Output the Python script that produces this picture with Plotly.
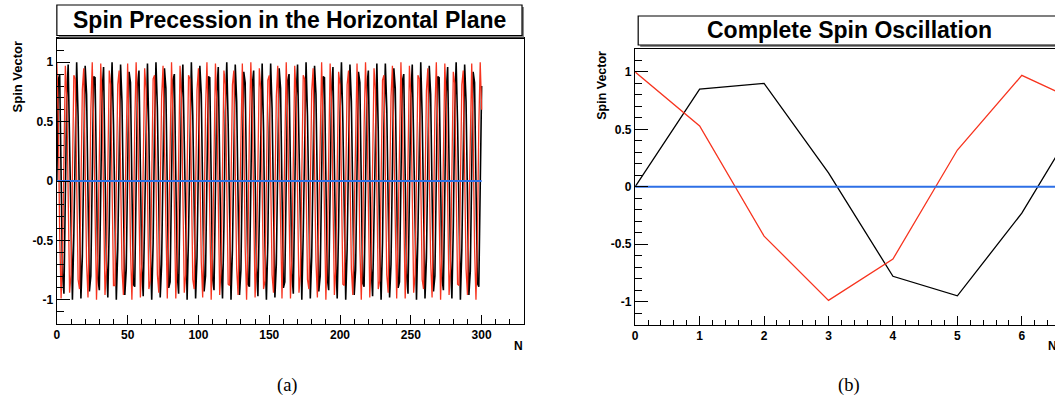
import plotly.graph_objects as go

W, H = 1055, 405

# ---------------- data ----------------
# turn number N for the long run (0 .. 300)
turns = list(range(301))

# horizontal spin components per turn (black = x, red = z), 25 turns per row
spin_x = [
    0.00, 0.85, 0.90, 0.12, -0.78, -0.95, -0.23, 0.70, 0.98, 0.34, -0.61, -1.00, -0.45, 0.52, 1.00, 0.55, -0.41, -0.99, -0.64, 0.31, 0.97, 0.73, -0.19, -0.93, -0.80,
    0.08, 0.88, 0.87, 0.04, -0.82, -0.92, -0.15, 0.75, 0.96, 0.27, -0.67, -0.98, -0.38, 0.58, 1.00, 0.48, -0.48, -1.00, -0.58, 0.38, 0.98, 0.67, -0.27, -0.96, -0.75,
    0.15, 0.92, 0.83, -0.04, -0.87, -0.89, -0.08, 0.80, 0.93, 0.19, -0.73, -0.97, -0.31, 0.64, 0.99, 0.41, -0.55, -1.00, -0.52, 0.45, 1.00, 0.61, -0.34, -0.98, -0.70,
    0.23, 0.95, 0.78, -0.12, -0.90, -0.85, 0.00, 0.85, 0.90, 0.12, -0.78, -0.95, -0.23, 0.70, 0.98, 0.34, -0.61, -1.00, -0.45, 0.52, 1.00, 0.55, -0.41, -0.99, -0.64,
    0.30, 0.97, 0.73, -0.19, -0.93, -0.80, 0.08, 0.88, 0.87, 0.04, -0.82, -0.92, -0.16, 0.75, 0.96, 0.27, -0.67, -0.99, -0.38, 0.58, 1.00, 0.48, -0.48, -1.00, -0.58,
    0.38, 0.98, 0.67, -0.27, -0.96, -0.75, 0.15, 0.92, 0.83, -0.04, -0.87, -0.89, -0.08, 0.80, 0.93, 0.19, -0.73, -0.97, -0.31, 0.64, 0.99, 0.42, -0.55, -1.00, -0.52,
    0.45, 0.99, 0.61, -0.34, -0.98, -0.70, 0.23, 0.95, 0.78, -0.11, -0.90, -0.85, 0.00, 0.84, 0.90, 0.12, -0.78, -0.95, -0.23, 0.70, 0.98, 0.34, -0.61, -1.00, -0.45,
    0.51, 1.00, 0.55, -0.41, -0.99, -0.64, 0.30, 0.97, 0.73, -0.19, -0.93, -0.80, 0.07, 0.88, 0.87, 0.04, -0.82, -0.92, -0.16, 0.75, 0.96, 0.27, -0.67, -0.99, -0.38,
    0.58, 1.00, 0.49, -0.48, -1.00, -0.58, 0.38, 0.98, 0.67, -0.27, -0.96, -0.75, 0.15, 0.92, 0.83, -0.04, -0.86, -0.89, -0.08, 0.80, 0.93, 0.20, -0.73, -0.97, -0.31,
    0.64, 0.99, 0.42, -0.55, -1.00, -0.52, 0.45, 0.99, 0.61, -0.34, -0.98, -0.70, 0.23, 0.95, 0.78, -0.11, -0.90, -0.85, 0.00, 0.84, 0.90, 0.12, -0.78, -0.95, -0.23,
    0.70, 0.98, 0.35, -0.61, -1.00, -0.45, 0.51, 1.00, 0.55, -0.41, -0.99, -0.65, 0.30, 0.97, 0.73, -0.19, -0.93, -0.80, 0.07, 0.88, 0.87, 0.04, -0.82, -0.92, -0.16,
    0.75, 0.96, 0.27, -0.67, -0.99, -0.38, 0.58, 1.00, 0.49, -0.48, -1.00, -0.58, 0.37, 0.98, 0.67, -0.26, -0.96, -0.76, 0.15, 0.92, 0.83, -0.03, -0.86, -0.89, -0.08,
    0.80,
]

spin_z = [
    1.00, 0.53, -0.43, -0.99, -0.63, 0.32, 0.97, 0.71, -0.21, -0.94, -0.79, 0.10, 0.89, 0.86, 0.02, -0.83, -0.91, -0.14, 0.77, 0.95, 0.25, -0.69, -0.98, -0.36, 0.60,
    1.00, 0.47, -0.50, -1.00, -0.57, 0.40, 0.99, 0.66, -0.29, -0.96, -0.74, 0.17, 0.93, 0.81, -0.06, -0.88, -0.88, -0.06, 0.81, 0.93, 0.17, -0.74, -0.96, -0.29, 0.66,
    0.99, 0.40, -0.56, -1.00, -0.50, 0.47, 1.00, 0.60, -0.36, -0.98, -0.69, 0.25, 0.95, 0.77, -0.13, -0.91, -0.84, 0.02, 0.86, 0.89, 0.10, -0.79, -0.94, -0.21, 0.71,
    0.97, 0.32, -0.63, -0.99, -0.43, 0.53, 1.00, 0.53, -0.43, -0.99, -0.63, 0.32, 0.97, 0.71, -0.21, -0.94, -0.79, 0.10, 0.89, 0.86, 0.02, -0.83, -0.91, -0.14, 0.77,
    0.95, 0.25, -0.68, -0.98, -0.36, 0.60, 1.00, 0.47, -0.50, -1.00, -0.57, 0.39, 0.99, 0.66, -0.29, -0.96, -0.74, 0.17, 0.93, 0.81, -0.06, -0.87, -0.88, -0.06, 0.81,
    0.93, 0.18, -0.74, -0.96, -0.29, 0.66, 0.99, 0.40, -0.56, -1.00, -0.50, 0.46, 1.00, 0.60, -0.36, -0.98, -0.69, 0.25, 0.95, 0.77, -0.13, -0.91, -0.84, 0.02, 0.85,
    0.89, 0.10, -0.79, -0.94, -0.21, 0.71, 0.97, 0.33, -0.63, -0.99, -0.43, 0.53, 1.00, 0.53, -0.43, -0.99, -0.63, 0.32, 0.97, 0.72, -0.21, -0.94, -0.79, 0.09, 0.89,
    0.86, 0.02, -0.83, -0.91, -0.14, 0.76, 0.95, 0.25, -0.68, -0.98, -0.36, 0.59, 1.00, 0.47, -0.50, -1.00, -0.57, 0.39, 0.99, 0.66, -0.28, -0.96, -0.74, 0.17, 0.92,
    0.81, -0.06, -0.87, -0.88, -0.06, 0.81, 0.93, 0.18, -0.74, -0.96, -0.29, 0.66, 0.99, 0.40, -0.56, -1.00, -0.50, 0.46, 1.00, 0.60, -0.36, -0.98, -0.69, 0.25, 0.95,
    0.77, -0.13, -0.91, -0.84, 0.02, 0.85, 0.89, 0.10, -0.79, -0.94, -0.21, 0.71, 0.97, 0.33, -0.63, -0.99, -0.43, 0.53, 1.00, 0.54, -0.43, -0.99, -0.63, 0.32, 0.97,
    0.72, -0.21, -0.94, -0.79, 0.09, 0.89, 0.86, 0.02, -0.83, -0.91, -0.14, 0.76, 0.95, 0.25, -0.68, -0.98, -0.36, 0.59, 1.00, 0.47, -0.50, -1.00, -0.57, 0.39, 0.99,
    0.66, -0.28, -0.96, -0.74, 0.17, 0.92, 0.82, -0.05, -0.87, -0.88, -0.06, 0.81, 0.93, 0.18, -0.74, -0.96, -0.29, 0.65, 0.99, 0.40, -0.56, -1.00, -0.50, 0.46, 1.00,
    0.60,
]

# vertical component stays at zero for every turn
spin_y = [
    0, 0, 0, 0, 0, 0, 0, 0, 0, 0, 0, 0, 0, 0, 0, 0, 0, 0, 0, 0, 0, 0, 0, 0, 0,
    0, 0, 0, 0, 0, 0, 0, 0, 0, 0, 0, 0, 0, 0, 0, 0, 0, 0, 0, 0, 0, 0, 0, 0, 0,
    0, 0, 0, 0, 0, 0, 0, 0, 0, 0, 0, 0, 0, 0, 0, 0, 0, 0, 0, 0, 0, 0, 0, 0, 0,
    0, 0, 0, 0, 0, 0, 0, 0, 0, 0, 0, 0, 0, 0, 0, 0, 0, 0, 0, 0, 0, 0, 0, 0, 0,
    0, 0, 0, 0, 0, 0, 0, 0, 0, 0, 0, 0, 0, 0, 0, 0, 0, 0, 0, 0, 0, 0, 0, 0, 0,
    0, 0, 0, 0, 0, 0, 0, 0, 0, 0, 0, 0, 0, 0, 0, 0, 0, 0, 0, 0, 0, 0, 0, 0, 0,
    0, 0, 0, 0, 0, 0, 0, 0, 0, 0, 0, 0, 0, 0, 0, 0, 0, 0, 0, 0, 0, 0, 0, 0, 0,
    0, 0, 0, 0, 0, 0, 0, 0, 0, 0, 0, 0, 0, 0, 0, 0, 0, 0, 0, 0, 0, 0, 0, 0, 0,
    0, 0, 0, 0, 0, 0, 0, 0, 0, 0, 0, 0, 0, 0, 0, 0, 0, 0, 0, 0, 0, 0, 0, 0, 0,
    0, 0, 0, 0, 0, 0, 0, 0, 0, 0, 0, 0, 0, 0, 0, 0, 0, 0, 0, 0, 0, 0, 0, 0, 0,
    0, 0, 0, 0, 0, 0, 0, 0, 0, 0, 0, 0, 0, 0, 0, 0, 0, 0, 0, 0, 0, 0, 0, 0, 0,
    0, 0, 0, 0, 0, 0, 0, 0, 0, 0, 0, 0, 0, 0, 0, 0, 0, 0, 0, 0, 0, 0, 0, 0, 0,
    0,
]

# one full oscillation, first turns only
osc_turns = [0, 1, 2, 3, 4, 5, 6, 7]
osc_x = [0.00, 0.85, 0.90, 0.12, -0.78, -0.95, -0.23, 0.70]
osc_z = [1.00, 0.53, -0.43, -0.99, -0.63, 0.32, 0.97, 0.71]
osc_y = [0, 0, 0, 0, 0, 0, 0, 0]

# axis ticks
spin_tick_vals = [-1, -0.5, 0, 0.5, 1]
spin_tick_text = ["-1", "-0.5", "0", "0.5", "1"]
turn_ticks_a = [0, 50, 100, 150, 200, 250, 300]
turn_ticks_b = [0, 1, 2, 3, 4, 5, 6]

titles = ["Spin Precession in the Horizontal Plane", "Complete Spin Oscillation"]
captions = ["(a)", "(b)"]

# ---------------- styling ----------------
SANS = "Liberation Sans, Arial, Helvetica, sans-serif"
SERIF = "Liberation Serif, Times New Roman, serif"
RED = "#f7341f"
BLUE = "#2d6fe6"


def px(x):
    return x / W


def py(y):
    return 1 - y / H


fig = go.Figure()

fig.add_trace(go.Scatter(x=turns, y=spin_x, mode="lines", line=dict(color="black", width=1.6),
                         xaxis="x", yaxis="y", hoverinfo="skip"))
fig.add_trace(go.Scatter(x=turns, y=spin_z, mode="lines", line=dict(color=RED, width=1.3),
                         xaxis="x", yaxis="y", hoverinfo="skip"))
fig.add_trace(go.Scatter(x=turns, y=spin_y, mode="lines", line=dict(color=BLUE, width=2),
                         xaxis="x", yaxis="y", hoverinfo="skip"))

fig.add_trace(go.Scatter(x=osc_turns, y=osc_x, mode="lines", line=dict(color="black", width=1.3),
                         xaxis="x2", yaxis="y2", hoverinfo="skip"))
fig.add_trace(go.Scatter(x=osc_turns, y=osc_z, mode="lines", line=dict(color=RED, width=1.3),
                         xaxis="x2", yaxis="y2", hoverinfo="skip"))
fig.add_trace(go.Scatter(x=osc_turns, y=osc_y, mode="lines", line=dict(color=BLUE, width=2),
                         xaxis="x2", yaxis="y2", hoverinfo="skip"))

tickfont = dict(family=SANS, size=12, color="black", weight="bold")
axis_common = dict(showline=True, linecolor="black", linewidth=1.3, ticks="inside",
                   tickcolor="black", tickwidth=1, showgrid=False, zeroline=False,
                   tickfont=tickfont, fixedrange=True)

fig.update_layout(
    width=W, height=H,
    margin=dict(l=0, r=0, t=0, b=0),
    paper_bgcolor="white", plot_bgcolor="white",
    showlegend=False,
    xaxis=dict(axis_common, domain=[px(54), px(522.6)], range=[0, 330], mirror=True,
               tickmode="array", tickvals=turn_ticks_a, ticklen=8.5,
               minor=dict(ticks="inside", ticklen=4.5, tickmode="linear", tick0=0, dtick=10,
                          tickcolor="black", tickwidth=1),
               anchor="y"),
    yaxis=dict(axis_common, domain=[py(323.5), py(38.5)], range=[-1.2, 1.2], mirror=True,
               tickmode="array", tickvals=spin_tick_vals, ticktext=spin_tick_text, ticklen=13,
               minor=dict(ticks="inside", ticklen=7, tickmode="linear", tick0=0, dtick=0.1,
                          tickcolor="black", tickwidth=1),
               anchor="x"),
    xaxis2=dict(axis_common, domain=[px(634), 1.0], range=[0, (W - 634) / 64.62], mirror=True,
                tickmode="array", tickvals=turn_ticks_b, ticklen=8.5,
                minor=dict(ticks="inside", ticklen=4.5, tickmode="linear", tick0=0, dtick=0.2,
                           tickcolor="black", tickwidth=1),
                anchor="y2"),
    yaxis2=dict(axis_common, domain=[py(324.5), py(49)], range=[-1.2, 1.2], mirror=False,
                tickmode="array", tickvals=spin_tick_vals, ticktext=spin_tick_text, ticklen=13,
                minor=dict(ticks="inside", ticklen=7, tickmode="linear", tick0=0, dtick=0.1,
                           tickcolor="black", tickwidth=1),
                anchor="x2"),
)

# title boxes with a drop shadow
shapes = []
for (x0, y0, x1, y1) in [(54, 5, 520.5, 35.5), (637, 16, 1060, 45)]:
    shapes.append(dict(type="rect", xref="paper", yref="paper",
                       x0=px(x0 + 2), x1=px(x1 + 2), y0=py(y1 + 2), y1=py(y0 + 2),
                       fillcolor="#8a8a8a", line=dict(width=0), layer="above"))
    shapes.append(dict(type="rect", xref="paper", yref="paper",
                       x0=px(x0), x1=px(x1), y0=py(y1), y1=py(y0),
                       fillcolor="white", line=dict(color="black", width=1.2), layer="above"))
fig.update_layout(shapes=shapes)

annotations = [
    dict(text=titles[0], x=px(287.3), y=py(20.5), xanchor="center", yanchor="middle",
         font=dict(family=SANS, size=23, color="black", weight="bold")),
    dict(text=titles[1], x=px(848.5), y=py(30.5), xanchor="center", yanchor="middle",
         font=dict(family=SANS, size=23, color="black", weight="bold")),
    dict(text="Spin Vector", textangle=-90, x=px(15), y=py(38.5), xanchor="center", yanchor="top",
         font=dict(family=SANS, size=13, color="black", weight="bold")),
    dict(text="Spin Vector", textangle=-90, x=px(600), y=py(49), xanchor="center", yanchor="top",
         font=dict(family=SANS, size=12.5, color="black", weight="bold")),
    dict(text="N", x=px(523), y=py(346), xanchor="right", yanchor="middle",
         font=dict(family=SANS, size=12, color="black", weight="bold")),
    # axis title of the right panel sits at the far end of its axis, at the page edge
    dict(text="N", x=px(1059), y=py(346), xanchor="right", yanchor="middle",
         font=dict(family=SANS, size=12, color="black", weight="bold")),
    dict(text=captions[0], x=px(285), y=py(385), xanchor="center", yanchor="middle",
         font=dict(family=SERIF, size=18.5, color="black")),
    dict(text=captions[1], x=px(848), y=py(385), xanchor="center", yanchor="middle",
         font=dict(family=SERIF, size=18.5, color="black")),
]
for a in annotations:
    a.update(xref="paper", yref="paper", showarrow=False)
fig.update_layout(annotations=annotations)

fig.write_html("out.html", config={"displayModeBar": False, "staticPlot": True})
